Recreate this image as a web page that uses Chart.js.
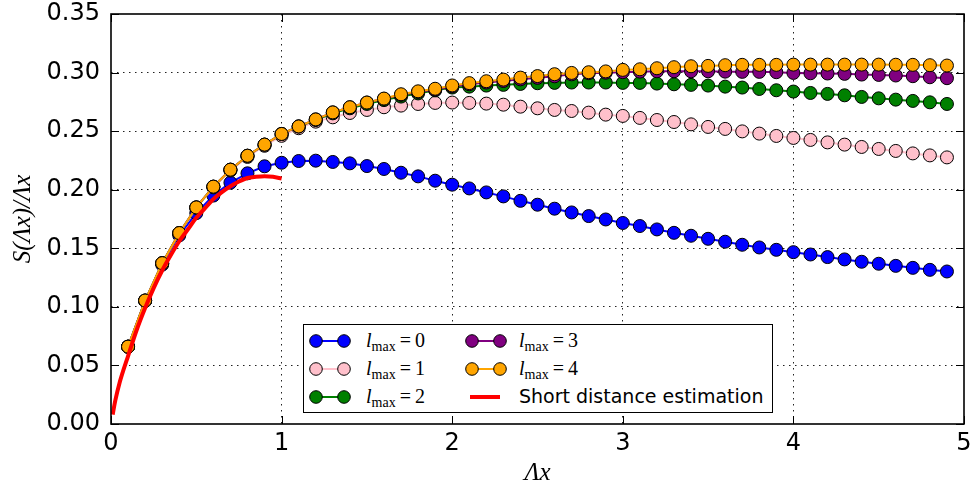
<!DOCTYPE html>
<html>
<head>
<meta charset="utf-8">
<script src="https://cdn.jsdelivr.net/npm/chart.js@4.4.1/dist/chart.umd.min.js"></script>
<style>
html,body{margin:0;padding:0;background:#fff;}
#wrap{position:relative;width:974px;height:492px;}
canvas{display:block;}
#legend{position:absolute;left:303px;top:324px;width:468px;height:87px;border:1.5px solid #000;background:#fff;}
.sw{position:absolute;}
.lab{position:absolute;font-family:"Liberation Serif",serif;font-size:20px;color:#000;line-height:24px;white-space:nowrap;}
.lab sub{font-style:normal;font-size:14px;vertical-align:-4px;line-height:0;}
.lab.sans{font-family:"DejaVu Sans",sans-serif;font-size:19px;}
</style>
</head>
<body>
<div id="wrap">
<canvas id="c" width="974" height="492"></canvas>
<div id="legend"></div>
</div>
<script>
// ---- data ----
const xValues = [0.1,0.2,0.3,0.4,0.5,0.6,0.7,0.8,0.9,1.0,
  1.1,1.2,1.3,1.4,1.5,1.6,1.7,1.8,1.9,2.0,
  2.1,2.2,2.3,2.4,2.5,2.6,2.7,2.8,2.9,3.0,
  3.1,3.2,3.3,3.4,3.5,3.6,3.7,3.8,3.9,4.0,
  4.1,4.2,4.3,4.4,4.5,4.6,4.7,4.8,4.9];

const lmax0 = [0.066,0.105,0.136,0.161,0.180,0.195,0.206,0.214,0.220,0.223,
  0.2245,0.2248,0.2237,0.2225,0.2202,0.2177,0.2145,0.2114,0.2077,0.2043,
  0.2011,0.1977,0.1943,0.1905,0.1872,0.1838,0.1806,0.1775,0.1746,0.1716,
  0.1690,0.1661,0.1632,0.1607,0.1581,0.1556,0.1530,0.1507,0.1487,0.1467,
  0.1447,0.1425,0.1405,0.1385,0.1368,0.1350,0.1333,0.1316,0.1302];

const lmax1 = [0.066,0.1052,0.1370,0.1627,0.1845,0.2020,0.2163,0.2280,0.2375,0.2460,
  0.2525,0.2581,0.2618,0.2655,0.2681,0.2704,0.2718,0.2732,0.2741,0.2744,
  0.2741,0.2735,0.2726,0.2709,0.2695,0.2681,0.2672,0.2658,0.2641,0.2630,
  0.2613,0.2595,0.2578,0.2558,0.2536,0.2519,0.2498,0.2479,0.2459,0.2442,
  0.2425,0.2404,0.2385,0.2365,0.2348,0.2331,0.2310,0.2293,0.2276];

const lmax2 = [0.066,0.1054,0.1373,0.1630,0.1849,0.2026,0.2171,0.2290,0.2385,0.2476,
  0.2540,0.2595,0.2652,0.2695,0.2732,0.2765,0.2795,0.2822,0.2848,0.2872,
  0.2880,0.2889,0.2895,0.2903,0.2909,0.2912,0.2915,0.2915,0.2915,0.2912,
  0.2912,0.2906,0.2900,0.2895,0.2889,0.2880,0.2872,0.2860,0.2849,0.2838,
  0.2826,0.2818,0.2806,0.2792,0.2780,0.2769,0.2758,0.2746,0.2732];

const lmax3 = [0.066,0.1054,0.1373,0.1630,0.1849,0.2026,0.2171,0.2290,0.2385,0.2476,
  0.2540,0.2600,0.2660,0.2704,0.2744,0.2776,0.2810,0.2835,0.2855,0.2882,
  0.2900,0.2915,0.2928,0.2942,0.2955,0.2968,0.2985,0.2995,0.2999,0.3003,
  0.3008,0.3011,0.3011,0.3011,0.3011,0.3008,0.3006,0.3006,0.3003,0.2997,
  0.2994,0.2992,0.2989,0.2983,0.2980,0.2975,0.2969,0.2960,0.2952];

const lmax4 = [0.066,0.1054,0.1373,0.1630,0.1849,0.2026,0.2171,0.2290,0.2385,0.2476,
  0.2540,0.2600,0.2660,0.2704,0.2744,0.2778,0.2815,0.2840,0.2862,0.2890,
  0.2910,0.2926,0.2940,0.2957,0.2970,0.2986,0.2997,0.3003,0.3010,0.3023,
  0.3028,0.3037,0.3046,0.3054,0.3057,0.3063,0.3066,0.3066,0.3066,0.3068,
  0.3068,0.3068,0.3068,0.3068,0.3068,0.3067,0.3066,0.3063,0.3060];

const shortX = [0.01,0.025,0.05,0.075,0.1,0.15,0.2,0.25,0.3,0.35,0.4,0.45,0.5,
  0.55,0.6,0.65,0.7,0.75,0.8,0.85,0.9,0.95,1.0];
const shortY = [0.008,0.020,0.035,0.047,0.058,0.080,0.099,0.116,0.131,0.144,0.156,0.166,0.176,
  0.184,0.192,0.198,0.203,0.207,0.210,0.211,0.2115,0.211,0.2095];

const seriesLabels = ['0','1','2','3','4'];
const seriesValues = [lmax0,lmax1,lmax2,lmax3,lmax4];
const seriesColors = ['#0000ff','#ffc0cb','#008000','#800080','#ffa500'];
const shortLabel = 'Short distance estimation';

const xTicks = [0,1,2,3,4,5];
const yTicks = [0,0.05,0.10,0.15,0.20,0.25,0.30,0.35];

// ---- build chart ----
const datasets = seriesValues.map((vals,i)=>({
  label: 'l_max = ' + seriesLabels[i],
  data: xValues.map((x,j)=>({x:x, y:vals[j]})),
  showLine: true,
  borderColor: seriesColors[i],
  backgroundColor: seriesColors[i],
  borderWidth: 2,
  pointRadius: 6.5,
  pointBackgroundColor: seriesColors[i],
  pointBorderColor: '#000',
  pointBorderWidth: 1,
  order: 5 - i
}));
datasets.push({
  label: shortLabel,
  data: shortX.map((x,j)=>({x:x, y:shortY[j]})),
  showLine: true,
  borderColor: '#ff0000',
  backgroundColor: '#ff0000',
  borderWidth: 4,
  pointRadius: 0,
  tension: 0.3,
  order: 0
});

const framePlugin = {
  id: 'frame',
  afterDatasetsDraw(chart){
    const {ctx, chartArea, scales} = chart;
    const {left,right,top,bottom} = chartArea;
    ctx.save();
    ctx.strokeStyle = '#000';
    ctx.lineWidth = 1;
    ctx.beginPath();
    scales.x.ticks.forEach(t=>{
      const px = Math.round(scales.x.getPixelForValue(t.value)) + 0.5;
      ctx.moveTo(px,bottom); ctx.lineTo(px,bottom-8);
      ctx.moveTo(px,top); ctx.lineTo(px,top+8);
    });
    scales.y.ticks.forEach(t=>{
      const py = Math.round(scales.y.getPixelForValue(t.value)) + 0.5;
      ctx.moveTo(left,py); ctx.lineTo(left+8,py);
      ctx.moveTo(right,py); ctx.lineTo(right-8,py);
    });
    ctx.stroke();
    ctx.lineWidth = 1.6;
    ctx.strokeRect(left, top, right-left, bottom-top);
    ctx.restore();
  }
};

const edgeHide = (lo,hi)=> (c)=>{
  if (!c.tick) return '#000';
  const v = c.tick.value;
  return (Math.abs(v-lo)<1e-9 || Math.abs(v-hi)<1e-9) ? 'rgba(0,0,0,0)' : '#222';
};
const noPad = s => { s.paddingTop = 0; s.paddingBottom = 0; s.paddingLeft = 0; s.paddingRight = 0; };

new Chart(document.getElementById('c'), {
  type: 'scatter',
  data: { datasets },
  plugins: [framePlugin],
  options: {
    responsive: false,
    animation: false,
    devicePixelRatio: 1,
    layout: { padding: { top: 14, right: 10, left: 0, bottom: 0 } },
    plugins: { legend: { display: false }, tooltip: { enabled: false } },
    scales: {
      x: {
        type: 'linear', min: 0, max: 5,
        afterFit: s => { s.height = 68; noPad(s); },
        afterBuildTicks: s => { s.ticks = xTicks.map(v=>({value:v})); },
        ticks: { color: '#000', padding: 5, maxRotation: 0,
          font: { family: '"DejaVu Sans", sans-serif', size: 24 },
          callback: v => String(v) },
        grid: { color: edgeHide(0,5), lineWidth: 1, drawTicks: false },
        border: { display: false, dash: [1.5,4.5] },
        title: { display: true, text: 'Λx', color: '#000', padding: { top: 0, bottom: 4 },
          font: { family: '"Liberation Serif", serif', size: 25, style: 'italic' } }
      },
      y: {
        type: 'linear', min: 0, max: 0.35,
        afterFit: s => { s.width = 111; noPad(s); },
        afterBuildTicks: s => { s.ticks = yTicks.map(v=>({value:v})); },
        ticks: { color: '#000', padding: 11,
          font: { family: '"DejaVu Sans", sans-serif', size: 24 },
          callback: v => Number(v).toFixed(2) },
        grid: { color: edgeHide(0,0.35), lineWidth: 1, drawTicks: false },
        border: { display: false, dash: [1.5,4.5] },
        title: { display: true, text: 'S(Λx)/Λx', color: '#000', padding: { top: 8, bottom: 0 },
          font: { family: '"Liberation Serif", serif', size: 25, style: 'italic' } }
      }
    }
  }
});

// ---- legend (real text) ----
const legend = document.getElementById('legend');
const rowsY = [16, 44, 72];
const items = [];
seriesLabels.forEach((lab,i)=> items.push({kind:'pt', color: seriesColors[i], math: lab}));
items.push({kind:'line', color:'#ff0000', text: shortLabel});
items.forEach((it,i)=>{
  const col = i < 3 ? 0 : 1;
  const row = i % 3;
  const cy = rowsY[row];
  const swLeft = col === 0 ? 4 : 160;
  const txtLeft = col === 0 ? 62 : 215;
  const ns = 'http://www.w3.org/2000/svg';
  const svg = document.createElementNS(ns,'svg');
  svg.setAttribute('width','46'); svg.setAttribute('height','20');
  svg.setAttribute('class','sw');
  svg.style.left = swLeft + 'px';
  svg.style.top = (cy - 10) + 'px';
  if (it.kind === 'pt') {
    const ln = document.createElementNS(ns,'line');
    ln.setAttribute('x1','8'); ln.setAttribute('x2','36'); ln.setAttribute('y1','10'); ln.setAttribute('y2','10');
    ln.setAttribute('stroke', it.color); ln.setAttribute('stroke-width','2');
    svg.appendChild(ln);
    [8,36].forEach(cx=>{
      const c = document.createElementNS(ns,'circle');
      c.setAttribute('cx',cx); c.setAttribute('cy','10'); c.setAttribute('r','6.3');
      c.setAttribute('fill', it.color); c.setAttribute('stroke','#000'); c.setAttribute('stroke-width','1');
      svg.appendChild(c);
    });
  } else {
    const ln = document.createElementNS(ns,'line');
    ln.setAttribute('x1','6'); ln.setAttribute('x2','36'); ln.setAttribute('y1','10'); ln.setAttribute('y2','10');
    ln.setAttribute('stroke', it.color); ln.setAttribute('stroke-width','4');
    svg.appendChild(ln);
  }
  legend.appendChild(svg);
  const t = document.createElement('div');
  t.className = 'lab' + (it.kind === 'line' ? ' sans' : '');
  t.style.left = txtLeft + 'px';
  t.style.top = (cy - 13) + 'px';
  if (it.kind === 'pt') {
    t.innerHTML = '<i>l</i><sub>max</sub>\u2009=\u2009' + it.math;
  } else {
    t.textContent = it.text;
  }
  legend.appendChild(t);
});
</script>
</body>
</html>
